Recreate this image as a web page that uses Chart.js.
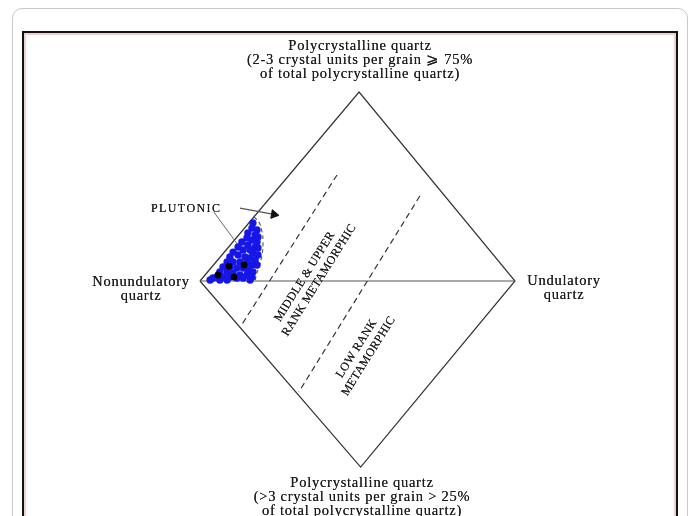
<!DOCTYPE html>
<html>
<head>
<meta charset="utf-8">
<script src="https://cdn.jsdelivr.net/npm/chart.js@4.4.1/dist/chart.umd.min.js"></script>
<style>
  html, body { margin:0; padding:0; background:#fff; width:693px; height:516px; overflow:hidden; }
  #outer { position:absolute; left:12px; top:8px; width:676px; height:600px; border:1px solid #c8c8c8; border-radius:10px; box-sizing:border-box; }
  #frame { position:absolute; left:22px; top:31px; width:656px; height:600px; border:2px solid #111; box-sizing:border-box; }
  #frame2 { position:absolute; left:24px; top:33px; width:652px; height:600px; border:2px solid #f2cfcf; box-sizing:border-box; }
  #c { position:absolute; left:0; top:0; }
  .lbl { position:absolute; font-family:"Liberation Serif","DejaVu Serif",serif; color:#1c1c1c; text-align:center; white-space:nowrap; text-shadow:0 0 0.5px #333; }
  .big { font-size:14.5px; line-height:14px; letter-spacing:0.75px; }
  .rot { font-size:12px; line-height:14px; letter-spacing:0.3px; }
</style>
</head>
<body>
<div id="outer"></div>
<div id="frame"></div>
<div id="frame2"></div>
<canvas id="c" width="693" height="516"></canvas>

<div class="lbl big" style="left:210px; width:300px; top:38px;">Polycrystalline quartz<br>(2-3 crystal units per grain &#x2A7E; 75%<br>of total polycrystalline quartz)</div>
<div class="lbl big" style="left:212px; width:300px; top:475px;">Polycrystalline quartz<br>(&gt;3 crystal units per grain &gt; 25%<br>of total polycrystalline quartz)</div>
<div class="lbl big" style="left:71px; width:140px; top:274px;">Nonundulatory<br>quartz</div>
<div class="lbl big" style="left:494px; width:140px; top:273px;">Undulatory<br>quartz</div>
<div class="lbl" style="left:151px; top:201px; font-size:12px; letter-spacing:1.4px;">PLUTONIC</div>
<div class="lbl rot" style="left:250px; width:120px; top:266px; transform:rotate(-58deg);">MIDDLE &amp; UPPER<br>RANK METAMORPHIC</div>
<div class="lbl rot" style="left:302px; width:120px; top:338px; transform:rotate(-58deg);">LOW RANK<br>METAMORPHIC</div>

<script>
// Diagram coordinates: left apex (0,0), right apex (100,0), top apex y=100, bottom apex y=-100
const diamondOutline = [[0,0],[50.5,100],[100,0],[51,-98.5],[0,0]];
const centerLine = [[0,0],[100,0]];
const boundaryUpper = [[43.5,56.1],[13.0,-23.8]];
const boundaryLower = [[69.8,45.0],[31.4,-58.7]];
const plutonicField = [[17.1,33.9],[18.7,31.2],[19.7,25.9],[20.0,20.6],[19.7,13.8],[18.7,7.4],[17.8,2.6],[17.5,-0.5]];
const leaderLine = [[4.4,36.5],[13.7,15.3]];
const arrowLine = [[12.7,38.6],[22.6,35.5]];
const arrowHead = [[23.5,35.2]];
const blueSamples = [
 [16.8,30.7],[16.5,28.0],[18.1,27.0],[15.2,25.4],[17.5,24.3],[18.4,23.3],[14.9,22.8],[16.5,21.7],
 [18.1,20.6],[13.3,20.6],[15.2,19.0],[17.5,18.0],[18.4,17.5],[12.1,18.0],[13.7,16.4],[15.9,16.4],
 [16.8,14.8],[18.4,13.8],[10.5,15.3],[12.1,13.8],[14.3,12.7],[15.9,12.2],[17.5,11.1],[9.5,12.7],
 [8.6,10.1],[10.5,10.1],[12.7,10.1],[14.9,9.5],[16.5,8.5],[18.1,8.5],[7.3,7.4],[9.5,7.4],
 [11.7,6.9],[13.7,6.9],[15.2,5.8],[16.8,4.8],[6.3,4.8],[8.6,4.8],[10.5,4.2],[12.7,3.2],
 [14.9,3.2],[16.5,2.1],[5.4,2.1],[7.3,2.1],[9.5,2.1],[11.7,1.6],[13.7,1.6],[4.1,1.6],
 [6.3,0.5],[8.6,0.5],[15.9,0.5],[3.2,0.5]
];
const blackSamples = [[9.2,7.9],[14.0,8.5],[10.8,2.1],[5.7,3.2]];

const pts = a => a.map(p => ({x:p[0], y:p[1]}));
const lineDs = (data, opts) => Object.assign({
  data: pts(data), showLine:true, pointRadius:0, borderColor:'#3a3a3a', borderWidth:1.2,
  fill:false, tension:0
}, opts||{});

new Chart(document.getElementById('c'), {
  type:'scatter',
  data:{ datasets:[
    { data: pts(blackSamples), pointRadius:3.4, backgroundColor:'#000', borderWidth:0 },
    { data: pts(blueSamples), pointRadius:3.7, backgroundColor:'#1616e6', borderWidth:0 },
    { data: pts(arrowHead), pointStyle:'triangle', rotation:100, pointRadius:5, backgroundColor:'#111', borderColor:'#111', borderWidth:1 },
    lineDs(arrowLine, {borderColor:'#555'}),
    lineDs(leaderLine, {borderColor:'#666', borderWidth:1}),
    lineDs(plutonicField, {borderDash:[4,3], tension:0.4, borderColor:'#555', borderWidth:1.1}),
    lineDs(boundaryUpper, {borderDash:[6,4], borderColor:'#333'}),
    lineDs(boundaryLower, {borderDash:[6,4], borderColor:'#333'}),
    lineDs(centerLine, {borderColor:'#555'}),
    lineDs(diamondOutline, {borderColor:'#333'})
  ]},
  options:{
    responsive:false, animation:false,
    layout:{ padding:0, autoPadding:false },
    plugins:{ legend:{display:false}, tooltip:{enabled:false} },
    scales:{
      x:{ type:'linear', display:false, min:-63.49, max:156.51 },
      y:{ type:'linear', display:false, min:-124.34, max:148.68 }
    },
    elements:{ line:{ borderCapStyle:'butt' } }
  }
});
</script>
</body>
</html>
